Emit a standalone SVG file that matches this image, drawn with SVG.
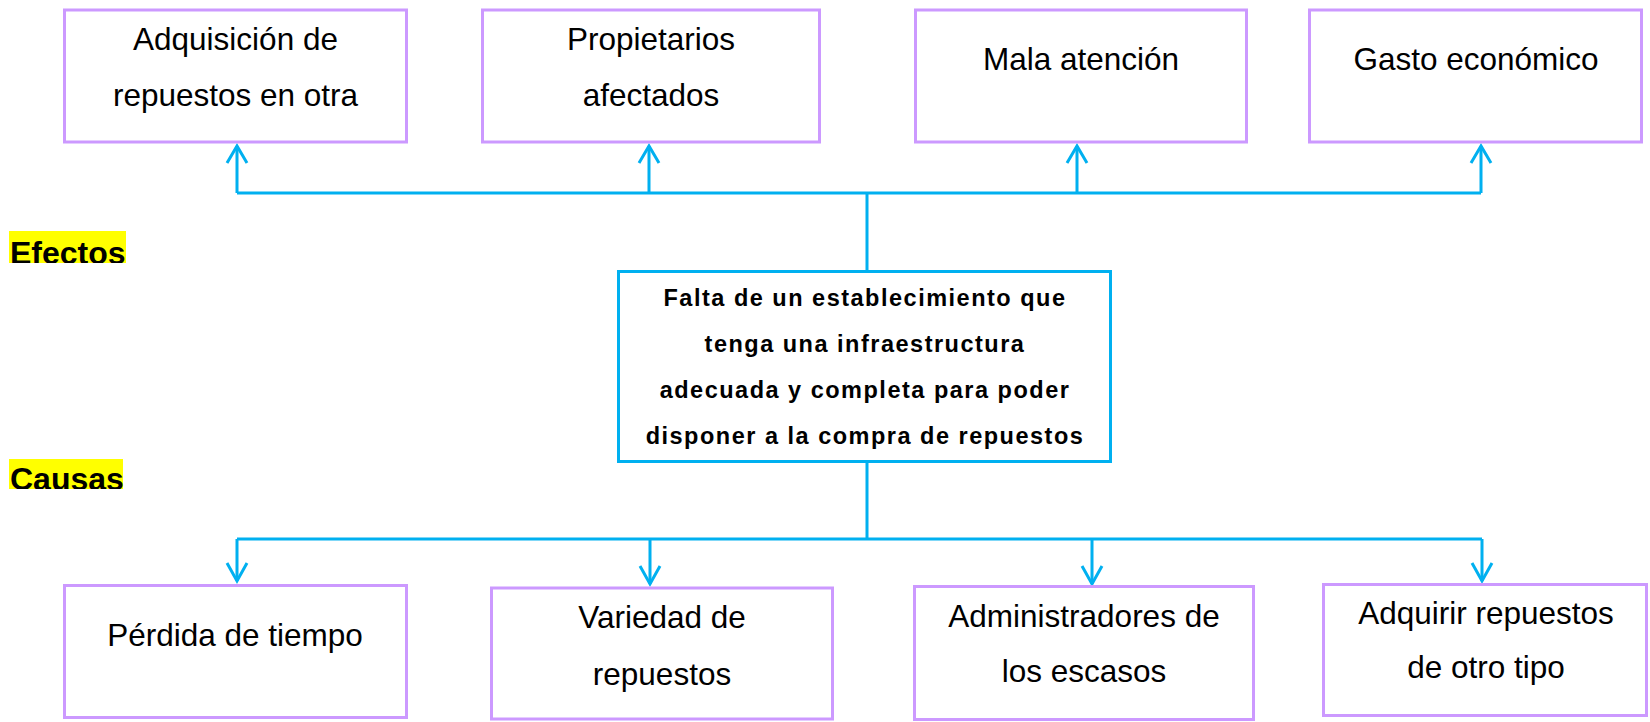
<svg xmlns="http://www.w3.org/2000/svg" width="1650" height="722" viewBox="0 0 1650 722">
<style>
.box{fill:#fff;stroke:#CC99FF;stroke-width:3}
.core{fill:#fff;stroke:#00B0F0;stroke-width:3}
.t{font-family:"Liberation Sans",Arial,sans-serif;font-size:31.5px;fill:#000;text-anchor:middle}
.b{font-family:"Liberation Sans",Arial,sans-serif;font-size:23.5px;font-weight:bold;fill:#000;text-anchor:middle;letter-spacing:1.5px}
.lbl{font-family:"Liberation Sans",Arial,sans-serif;font-size:32px;font-weight:bold;fill:#000}
.ln{fill:none;stroke:#00B0F0;stroke-width:3}
</style>
<defs>
<clipPath id="cE"><rect x="0" y="225" width="140" height="38"/></clipPath>
<clipPath id="cC"><rect x="0" y="453" width="140" height="36"/></clipPath>
</defs>
<rect width="1650" height="722" fill="#fff"/>
<g id="connectors" class="ln">
<path d="M237 193H1481M867 193V270M867 463V539M237 539H1482"/>
<path d="M237 193V146M649 193V146M1077 193V146M1481 193V146"/>
<path d="M227 163L237 146L247 163M639 163L649 146L659 163M1067 163L1077 146L1087 163M1471 163L1481 146L1491 163"/>
<path d="M237 539V581M650 539V584M1092 539V584M1482 539V581"/>
<path d="M227 563L237 581L247 563M640 566L650 584L660 566M1082 566L1092 584L1102 566M1472 563L1482 581L1492 563"/>
</g>
<g id="efecto1"><rect class="box" x="64.5" y="10" width="342" height="132"/><text class="t" x="235.5" y="50">Adquisición de</text><text class="t" x="235.5" y="106">repuestos en otra</text></g>
<g id="efecto2"><rect class="box" x="482.5" y="10" width="337" height="132"/><text class="t" x="651" y="50">Propietarios</text><text class="t" x="651" y="106">afectados</text></g>
<g id="efecto3"><rect class="box" x="915.5" y="10" width="331" height="132"/><text class="t" x="1081" y="70">Mala atención</text></g>
<g id="efecto4"><rect class="box" x="1309.5" y="10" width="332" height="132"/><text class="t" x="1476" y="70">Gasto económico</text></g>
<g id="problema"><rect class="core" x="618.5" y="271.5" width="492" height="190"/>
<text class="b" x="865" y="306">Falta de un establecimiento que</text>
<text class="b" x="865" y="352">tenga una infraestructura</text>
<text class="b" x="865" y="398">adecuada y completa para poder</text>
<text class="b" x="865" y="444">disponer a la compra de repuestos</text></g>
<g id="causa1"><rect class="box" x="64.5" y="585.5" width="342" height="132"/><text class="t" x="235" y="646">Pérdida de tiempo</text></g>
<g id="causa2"><rect class="box" x="491.5" y="588" width="341" height="131"/><text class="t" x="662" y="628">Variedad de</text><text class="t" x="662" y="685">repuestos</text></g>
<g id="causa3"><rect class="box" x="914.5" y="586.5" width="339" height="133"/><text class="t" x="1084" y="627">Administradores de</text><text class="t" x="1084" y="682">los escasos</text></g>
<g id="causa4"><rect class="box" x="1323.5" y="584.5" width="323" height="131"/><text class="t" x="1486" y="624">Adquirir repuestos</text><text class="t" x="1486" y="678">de otro tipo</text></g>
<g id="label-efectos" clip-path="url(#cE)"><rect x="9" y="231" width="117" height="32" fill="#FFFF00"/><text class="lbl" x="10" y="264">Efectos</text></g>
<g id="label-causas" clip-path="url(#cC)"><rect x="9" y="459" width="114" height="30" fill="#FFFF00"/><text class="lbl" x="10" y="490">Causas</text></g>
</svg>
